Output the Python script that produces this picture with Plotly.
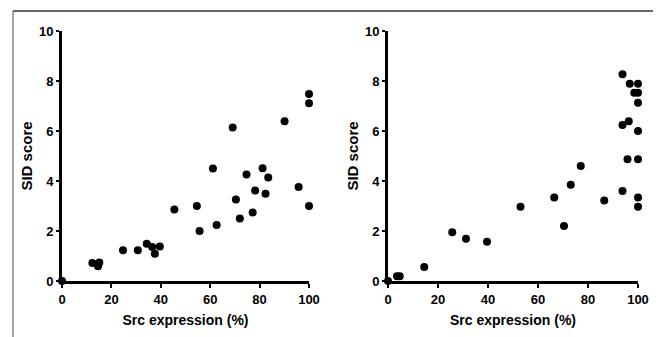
import plotly.graph_objects as go

# Left panel data
left_x = [0, 12.3, 14.6, 15.1, 24.7, 30.7, 34.3, 36.5, 37.6, 39.6, 45.5, 54.6, 55.7,
          61.1, 62.6, 69.1, 70.4, 72.0, 74.7, 77.2, 78.2, 81.2, 82.4, 83.5, 90.1,
          95.8, 100, 100, 100]
left_y = [0, 0.72, 0.59, 0.74, 1.23, 1.23, 1.49, 1.36, 1.09, 1.38, 2.86, 3.0, 2.0,
          4.5, 2.24, 6.14, 3.26, 2.5, 4.26, 2.74, 3.62, 4.51, 3.49, 4.14, 6.39,
          3.76, 3.0, 7.11, 7.48]

# Right panel data
right_x = [0, 3.6, 4.7, 14.5, 25.7, 31.2, 39.6, 53.0, 66.5, 70.4, 73.1, 77.1, 86.5,
           93.8, 93.8, 93.8, 96.3, 95.8, 96.7, 98.5, 100, 100, 100, 100, 100, 100, 100]
right_y = [0, 0.19, 0.19, 0.56, 1.95, 1.69, 1.57, 2.97, 3.34, 2.2, 3.85, 4.6, 3.22,
           3.6, 6.24, 8.27, 6.39, 4.87, 7.89, 7.53, 7.53, 7.89, 7.13, 6.0, 4.87, 3.34, 2.97]

x_ticks = [0, 20, 40, 60, 80, 100]
y_ticks = [0, 2, 4, 6, 8, 10]
x_title = "Src expression (%)"
y_title = "SID score"

OFF = 8  # default body margin of the html page
W, H = 661 - OFF, 337 - OFF
font = "Arial, Liberation Sans, sans-serif"


def px(x):
    return (x - OFF) / W


def py(y):
    return (H - (y - OFF)) / H


fig = go.Figure()
marker = dict(color="black", size=8)
fig.add_trace(go.Scatter(x=left_x, y=left_y, mode="markers", marker=marker,
                         cliponaxis=False, xaxis="x", yaxis="y", showlegend=False))
fig.add_trace(go.Scatter(x=right_x, y=right_y, mode="markers", marker=marker,
                         cliponaxis=False, xaxis="x2", yaxis="y2", showlegend=False))

ydom = [py(281), py(31)]
common_x = dict(range=[0, 100], tickvals=x_ticks, showline=True, linewidth=3,
                linecolor="black", ticks="outside", ticklen=4, tickwidth=1.5,
                tickcolor="black", showgrid=False, zeroline=False, automargin=False,
                tickfont=dict(family=font, size=13, color="black", weight="bold"),
                title=dict(text=x_title, standoff=10,
                           font=dict(family=font, size=14, color="black", weight="bold")))
common_y = dict(range=[0, 10], tickvals=y_ticks, showline=True, linewidth=3,
                linecolor="black", ticks="outside", ticklen=3, tickwidth=1.5,
                tickcolor="black", showgrid=False, zeroline=False, ticklabelstandoff=0,
                automargin=False,
                tickfont=dict(family=font, size=13, color="black", weight="bold"),
                title=dict(text=y_title, standoff=3,
                           font=dict(family=font, size=15, color="black", weight="bold")))

fig.update_layout(
    width=W, height=H, margin=dict(l=0, r=0, t=0, b=0),
    paper_bgcolor="white", plot_bgcolor="white",
    xaxis=dict(domain=[px(62), px(309)], anchor="y", **common_x),
    yaxis=dict(domain=ydom, anchor="x", **common_y),
    xaxis2=dict(domain=[px(388), px(638)], anchor="y2", **common_x),
    yaxis2=dict(domain=ydom, anchor="x2", **common_y),
    shapes=[
        dict(type="line", xref="paper", yref="paper", x0=px(13), x1=px(13),
             y0=0, y1=py(11), line=dict(color="#888888", width=1.5)),
        dict(type="line", xref="paper", yref="paper", x0=px(13), x1=px(657),
             y0=py(11), y1=py(11), line=dict(color="#333333", width=1.5)),
        dict(type="line", xref="paper", yref="paper", x0=px(657), x1=px(657),
             y0=0, y1=py(11), line=dict(color="#888888", width=1.5)),
    ],
)

fig.write_html("out.html")
